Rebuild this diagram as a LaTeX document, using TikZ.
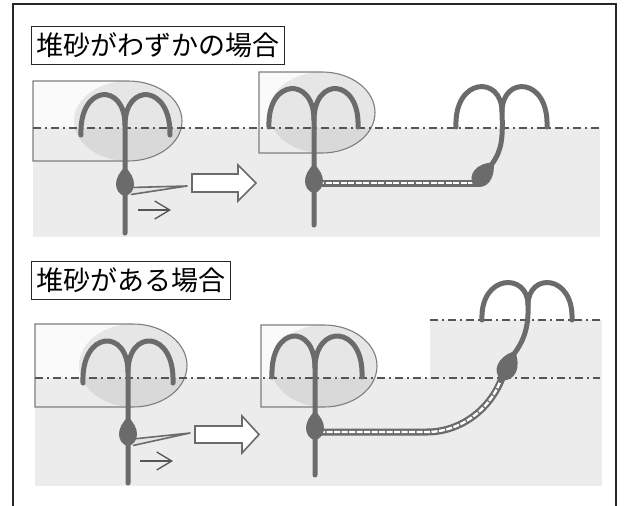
\documentclass[tikz,border=0pt]{standalone}
\usepackage{fontspec}
\newfontfamily\jpfont{Noto Sans CJK JP}
\usetikzlibrary{arrows.meta}
\definecolor{strand}{HTML}{6B6B6B}
\definecolor{sandgray}{HTML}{ECECEC}
\definecolor{lobewhite}{HTML}{FAFAFA}
\definecolor{lobeedge}{HTML}{7E7E7E}
\definecolor{dashgray}{HTML}{555555}

\tikzset{
  strandline/.style={draw=strand, line width=5pt, line cap=round},
  waterline/.style={draw=dashgray, line width=1.4pt, dash pattern=on 8pt off 4pt on 2pt off 4pt},
  lobeline/.style={draw=lobeedge, line width=1.1pt},
  pipeouter/.style={draw=strand, line width=7pt},
  pipeinner/.style={draw=white, line width=2.4pt, dash pattern=on 6pt off 1.5pt},
  wedge/.style={draw=strand, fill=white!90!black, line width=1.6pt, line join=round},
  flowarrow/.style={draw=dashgray, line width=1.3pt, -{Straight Barb[length=15pt,width=18pt]}},
  bigarrow/.style={draw=strand, fill=white, line width=1.6pt, line join=miter},
  titlebox/.style={draw=black!85, line width=1.1pt, font=\jpfont\fontsize{27}{27}\selectfont,
    inner xsep=5pt, inner ysep=0pt, minimum height=38pt, anchor=north west},
  framestyle/.style={draw=black!85, line width=1.6pt}
}

% lobe: rectangle with an elliptic right end; a darker ellipse inside
% #1 left, #2 top, #3 bottom, #4 ellipse centre x, #5 ellipse x radius, #6 water level
\newcommand\lobe[6]{%
  \pgfmathsetmacro\lobecy{(#2+#3)/2}%
  \pgfmathsetmacro\lobery{(#3-#2)/2}%
  \pgfmathsetmacro\lobekx{#4+0.5523*#5}%
  \pgfmathsetmacro\lobedy{0.5523*\lobery}%
  \pgfmathsetmacro\lobeux{#4+#5}%
  \pgfmathsetmacro\lobeup{\lobecy-\lobedy}%
  \pgfmathsetmacro\lobedn{\lobecy+\lobedy}%
  \fill[lobewhite] (#4,#2) -- (#1,#2) -- (#1,#3) -- (#4,#3) .. controls (\lobekx,#3) and (\lobeux,\lobedn) .. (\lobeux,\lobecy) .. controls (\lobeux,\lobeup) and (\lobekx,#2) .. (#4,#2) -- cycle;
  \begin{scope}
    \clip (#4,#2) -- (#1,#2) -- (#1,#3) -- (#4,#3) .. controls (\lobekx,#3) and (\lobeux,\lobedn) .. (\lobeux,\lobecy) .. controls (\lobeux,\lobeup) and (\lobekx,#2) .. (#4,#2) -- cycle;
    \fill[sandgray] (#1,#6) rectangle (\lobeux,#3);
  \end{scope}
  \fill[black, opacity=.08] (#4,\lobecy) ellipse [x radius=#5, y radius=\lobery];
  \draw[lobeline] (#4,#2) -- (#1,#2) -- (#1,#3) -- (#4,#3) .. controls (\lobekx,#3) and (\lobeux,\lobedn) .. (\lobeux,\lobecy) .. controls (\lobeux,\lobeup) and (\lobekx,#2) .. (#4,#2) -- cycle;
}

% bulb: teardrop, narrow end up; #1 x, #2 y, #3 rotation, #4 scale
\newcommand\bulb[4]{%
  \fill[strand, shift={(#1,#2)}, rotate=#3, scale=#4]
    (0,-17) .. controls (12,-6) and (12,8) .. (0,12.5) .. controls (-12,8) and (-12,-6) .. (0,-17) -- cycle;
}

\begin{document}
\begin{tikzpicture}[x=1pt, y=-1pt]
\useasboundingbox (0,0) rectangle (624,506);
\begin{scope}
\clip (0,0) rectangle (624,506);

% ---------------- upper panel ----------------
\node[titlebox] (title1) at (31,26) {堆砂がわずかの場合};

\fill[sandgray] (33,128) rectangle (600,237);
\lobe{33}{81}{161}{128}{54}{128}
\lobe{259}{72}{153}{322}{53}{128}
\draw[waterline] (33,128) -- (600,128);

% before: wire in the pipe mouth
\draw[wedge] (131,187.5) -- (187,186) -- (131,194.5);
\draw[strandline] (81,135) .. controls (79,84) and (125,82) .. (125,125) -- (125,233);
\draw[strandline] (125,125) .. controls (125,82) and (171,84) .. (170,135);
\bulb{125}{184}{0}{1}
\draw[flowarrow] (138,210) -- (171,210);

\draw[bigarrow] (192,174) -- (238,174) -- (238,165) -- (256,183) -- (238,201) -- (238,192) -- (192,192) -- cycle;

% after: pipe pushed through, wire emerging downstream
\draw[pipeouter] (316,183) -- (478,183);
\draw[pipeinner] (318,183) -- (476,183);
\draw[strandline] (269,127) .. controls (267,78) and (314,76) .. (314,120) -- (314,225);
\draw[strandline] (314,120) .. controls (314,76) and (360,78) .. (358,127);
\bulb{314}{181}{0}{1}

\draw[strandline] (456,127) .. controls (454,77) and (502,75) .. (502,112) .. controls (503,138) and (502,150) .. (492,164);
\draw[strandline] (502,112) .. controls (502,75) and (549,77) .. (547,127);
\bulb{482}{176}{-40}{1.05}

% ---------------- lower panel ----------------
\node[titlebox] (title2) at (31,261) {堆砂がある場合};

\fill[sandgray] (35,378) rectangle (602,486);
\fill[sandgray] (430,320) rectangle (602,378);
\lobe{35}{324}{407}{133}{54}{378}
\lobe{261}{325}{407}{324}{53}{378}
\draw[waterline] (35,378) -- (600,378);
\draw[waterline] (430,320) -- (600,320);

\draw[wedge] (133,439) -- (190,433) -- (133,445.5);
\draw[strandline] (83,383) .. controls (81,330) and (128,328) .. (128,372) -- (128,483);
\draw[strandline] (128,372) .. controls (128,328) and (175,330) .. (173,383);
\bulb{128}{434}{0}{1}
\draw[flowarrow] (140,461) -- (173,461);

\draw[bigarrow] (195,426) -- (242,426) -- (242,416) -- (259,434.5) -- (242,453) -- (242,443) -- (195,443) -- cycle;

\draw[pipeouter] (317,432) -- (427,432) .. controls (460,432) and (490,410) .. (502,378);
\draw[pipeinner] (319,432) -- (427,432) .. controls (460,432) and (489,410) .. (500,382);
\draw[strandline] (272,377) .. controls (270,325) and (315,323) .. (315,368) -- (315,475);
\draw[strandline] (315,368) .. controls (315,323) and (364,325) .. (362,377);
\bulb{315}{428}{0}{1}

\draw[strandline] (482,320) .. controls (480,274) and (528,272) .. (528,305) .. controls (529,330) and (522,343) .. (514,354);
\draw[strandline] (528,305) .. controls (528,272) and (574,274) .. (572,320);
\bulb{507}{368}{-25}{1.1}

% outer frame
\draw[framestyle] (13,512) -- (13,4) -- (616,4) -- (616,512);
\end{scope}
\end{tikzpicture}
\end{document}
